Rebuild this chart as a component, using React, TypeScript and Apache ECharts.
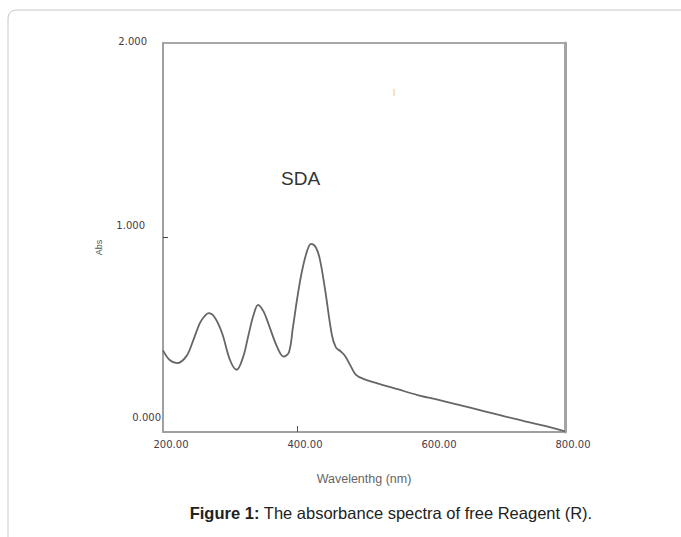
import React, { useEffect, useRef } from "react";
import * as echarts from "echarts";

const wavelengths = [200, 210, 221, 235, 245, 255, 262, 268, 277, 288, 300, 310, 320, 327, 335, 342, 350, 357, 370, 380, 388, 394, 400, 407, 415, 421, 428, 434, 442, 452, 458, 465, 472, 480, 488, 500, 520, 550, 580, 620, 660, 700, 740, 770, 800];
const absorbance = [0.42, 0.37, 0.354, 0.39, 0.47, 0.56, 0.595, 0.611, 0.59, 0.51, 0.37, 0.32, 0.39, 0.49, 0.6, 0.654, 0.62, 0.56, 0.44, 0.388, 0.41, 0.54, 0.68, 0.82, 0.93, 0.967, 0.95, 0.89, 0.73, 0.5, 0.435, 0.415, 0.39, 0.34, 0.294, 0.272, 0.25, 0.22, 0.19, 0.158, 0.124, 0.089, 0.055, 0.032, 0.003];
const xTickValues = [200, 400, 600, 800];
const yTickValues = [0, 1, 2];
const seriesLabel = "SDA";
const xAxisName = "Wavelenthg (nm)";
const yAxisName = "Abs";
const captionBold = "Figure 1:";
const captionText = " The absorbance spectra of free Reagent (R).";

export default function App() {
  const ref = useRef<HTMLDivElement>(null);
  useEffect(() => {
    document.body.style.margin = "0";
    const chart = echarts.init(ref.current!, null, { renderer: "svg" });
    const data = wavelengths.map((w, i) => [w, absorbance[i]]);
    const yKeys = ["c", "b", "a"];
    const labelFont = { fontSize: 10, fontFamily: "DejaVu Sans", color: "#4a3a48" };
    chart.setOption({
      animation: false,
      backgroundColor: "#ffffff",
      grid: {
        left: 163,
        right: 116,
        top: 43,
        bottom: 105,
        show: true,
        borderColor: "#a8a8a8",
        borderWidth: 2,
      },
      xAxis: {
        type: "value",
        min: 200,
        max: 800,
        interval: 200,
        name: xAxisName,
        nameLocation: "middle",
        nameGap: 40,
        nameTextStyle: { color: "#666", fontSize: 12.5, fontFamily: "Liberation Sans" },
        axisLine: { show: true, lineStyle: { color: "#a0a0a0", width: 2 } },
        axisTick: { show: true, inside: true, length: 6, customValues: [400], lineStyle: { color: "#555" } },
        splitLine: { show: false },
        axisLabel: {
          margin: 7,
          ...labelFont,
          padding: [0, 0, 0, 16],
          customValues: xTickValues,
          formatter: (v: number) => v.toFixed(2),
        },
      },
      yAxis: [
        {
          type: "value",
          min: 0,
          max: 2,
          interval: 1,
          name: yAxisName,
          nameLocation: "middle",
          nameGap: 60,
          nameRotate: 90,
          nameTextStyle: { color: "#555", fontSize: 9, fontFamily: "Liberation Sans", padding: [0, 20, 0, 0] },
          axisLine: { show: true, lineStyle: { color: "#a0a0a0", width: 2 } },
          axisTick: { show: true, inside: true, length: 5, customValues: [1], lineStyle: { color: "#444" } },
          splitLine: { show: false },
          axisLabel: {
            margin: 2,
            ...labelFont,
            verticalAlign: "middle",
            customValues: yTickValues,
            formatter: (v: number) => "{" + yKeys[v] + "|" + v.toFixed(3) + "}",
            rich: {
              a: { ...labelFont, padding: [0, 14, 4, 0] },
              b: { ...labelFont, padding: [0, 16, 24, 0] },
              c: { ...labelFont, padding: [0, 0, 30, 0] },
            },
          },
        },
        {
          type: "value",
          min: 0,
          max: 2,
          interval: 1,
          position: "right",
          axisLine: { show: true, lineStyle: { color: "#a4a4a4", width: 3 } },
          axisTick: { show: false },
          axisLabel: { show: false },
          splitLine: { show: false },
        },
      ],
      series: [
        {
          type: "line",
          data,
          smooth: 0.35,
          showSymbol: false,
          lineStyle: { color: "#666666", width: 1.8 },
        },
      ],
      graphic: [
        {
          type: "rect",
          shape: { x: 8, y: 10, width: 720, height: 580, r: 8 },
          style: { fill: "none", stroke: "#c8c8c8", lineWidth: 1 },
          silent: true,
        },
        {
          type: "text",
          left: 281,
          top: 169,
          style: { text: seriesLabel, fontSize: 19, fill: "#333", fontFamily: "Liberation Sans" },
        },
        {
          type: "line",
          shape: { x1: 394, y1: 89, x2: 394, y2: 96 },
          style: { stroke: "#f3c48a", lineWidth: 1 },
        },
        {
          type: "text",
          x: 391,
          y: 513,
          style: {
            text: "{b|" + captionBold + "}" + captionText,
            align: "center",
            verticalAlign: "middle",
            fontSize: 16.5,
            fill: "#222",
            fontFamily: "Liberation Sans",
            rich: { b: { fontWeight: "bold", fontSize: 16.5, fill: "#222", fontFamily: "Liberation Sans" } },
          },
        },
      ],
    });
    return () => chart.dispose();
  }, []);
  return <div ref={ref} style={{ width: 681, height: 537 }} />;
}
